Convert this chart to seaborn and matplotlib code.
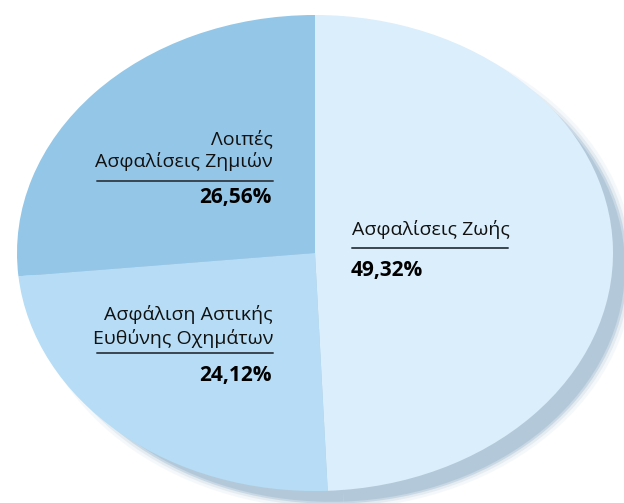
import matplotlib
matplotlib.use("Agg")
import matplotlib.pyplot as plt
import seaborn as sns

sns.set_theme(style="white")
plt.rcParams["font.family"] = ["Open Sans", "DejaVu Sans"]

# Data
categories = ["Ασφαλίσεις Ζωής", "Ασφάλιση Αστικής\nΕυθύνης Οχημάτων", "Λοιπές\nΑσφαλίσεις Ζημιών"]
values = [49.32, 24.12, 26.56]
pct_labels = ["49,32%", "24,12%", "26,56%"]
colors = ["#dbeefb", "#b6ddf5", "#94c6e7"]
shadow_color = "#b3c9da"

W, H = 624, 503
fig = plt.figure(figsize=(W / 100, H / 100), dpi=100)
fig.patch.set_facecolor("white")

cx, cy, rx, ry = 315, 253, 298, 238
ax = fig.add_axes([0, 0, 1, 1])

# soft shadow (offset down-right, slightly smaller)
dx, dy, r0 = 16, 14, 0.9866
for extra, alpha in [(0.03, 0.12), (0.018, 0.25), (0.008, 0.55), (0.0, 1.0)]:
    ax.pie(values, colors=[shadow_color] * len(values), startangle=90,
           counterclock=False, center=(dx / rx, -dy / ry), radius=r0 + extra,
           wedgeprops=dict(linewidth=0, alpha=alpha))

ax.pie(values, colors=colors, startangle=90, counterclock=False,
       center=(0, 0), radius=1, wedgeprops=dict(linewidth=0))
ax.set_aspect("auto")
ax.set_xlim(-cx / rx, (W - cx) / rx)
ax.set_ylim(-(H - cy) / ry, cy / ry)
ax.axis("off")

# text overlay in pixel coordinates
tx = fig.add_axes([0, 0, 1, 1])
tx.set_xlim(0, W)
tx.set_ylim(H, 0)
tx.axis("off")
tx.patch.set_alpha(0)

label_fs = 14
pct_fs = 15
text_color = "#111111"
rule_color = "#3a4550"

# Life (left-aligned)
tx.text(352, 235, categories[0], ha="left", va="baseline", fontsize=label_fs, color=text_color)
tx.plot([352, 508], [248, 248], color=rule_color, lw=1.4)
tx.text(351, 276, pct_labels[0], ha="left", va="baseline", fontsize=pct_fs,
        color="black", fontweight="bold")

# Motor liability (right-aligned)
l1, l2 = categories[1].split("\n")
tx.text(273, 320, l1, ha="right", va="baseline", fontsize=label_fs, color=text_color)
tx.text(273, 344, l2, ha="right", va="baseline", fontsize=label_fs, color=text_color)
tx.plot([97, 273], [353, 353], color=rule_color, lw=1.4)
tx.text(272, 381, pct_labels[1], ha="right", va="baseline", fontsize=pct_fs,
        color="black", fontweight="bold")

# Other non-life (right-aligned)
l1, l2 = categories[2].split("\n")
tx.text(273, 144, l1, ha="right", va="baseline", fontsize=label_fs, color=text_color)
tx.text(273, 167, l2, ha="right", va="baseline", fontsize=label_fs, color=text_color)
tx.plot([97, 273], [181, 181], color=rule_color, lw=1.4)
tx.text(272, 203, pct_labels[2], ha="right", va="baseline", fontsize=pct_fs,
        color="black", fontweight="bold")

fig.savefig("out.png", dpi=100, facecolor="white")
